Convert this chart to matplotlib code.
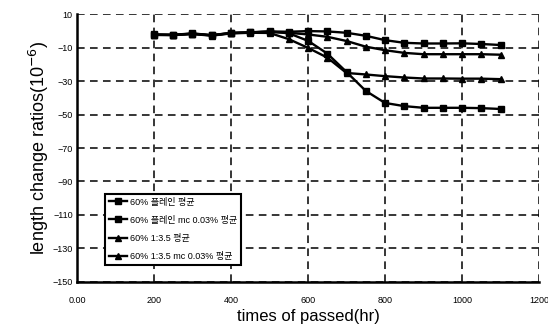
import matplotlib
matplotlib.use("Agg")
import matplotlib.pyplot as plt

plt.rcParams['font.family'] = ['Liberation Sans', 'Noto Sans CJK KR', 'DejaVu Sans']

hours = [200, 250, 300, 350, 400, 450, 500, 550, 600, 650, 700,
         750, 800, 850, 900, 950, 1000, 1050, 1100]

plain = [-2.2, -2.4, -1.6, -2.6, -1.3, -0.9, -0.4, -0.6, -0.2, -0.4, -1.2,
         -3.0, -5.6, -7.2, -7.6, -7.6, -7.5, -7.9, -8.5]
plain_mc = [-2.3, -2.5, -1.7, -2.7, -1.3, -1.0, -0.5, -1.5, -6.0, -13.6, -24.6,
            -35.9, -43.1, -45.0, -46.0, -46.0, -46.0, -46.2, -46.7]
mix = [-2.5, -2.6, -2.0, -2.9, -1.6, -1.2, -1.3, -5.0, -10.2, -16.0, -25.2,
       -26.1, -27.1, -27.9, -28.5, -28.5, -28.6, -28.6, -28.9]
mix_mc = [-2.4, -2.5, -1.8, -2.8, -1.4, -1.0, -0.6, -1.2, -2.2, -3.6, -6.1,
          -9.5, -11.6, -13.2, -14.0, -14.0, -14.0, -14.0, -14.3]

labels = ["60% 플레인 평균", "60% 플레인 mc 0.03% 평균",
          "60% 1:3.5 평균", "60% 1:3.5 mc 0.03% 평균"]
markers = ["s", "s", "^", "^"]

x_ticks = [0, 200, 400, 600, 800, 1000, 1200]
x_tick_labels = ["0.00", "200", "400", "600", "800", "1000", "1200"]
y_ticks = [10, -10, -30, -50, -70, -90, -110, -130, -150]

fig = plt.figure(figsize=(5.48, 3.29), dpi=100)
ax = fig.add_axes([0.1405, 0.1429, 0.8431, 0.8145])

for series, label, mk in zip([plain, plain_mc, mix, mix_mc], labels, markers):
    ax.plot(hours, series, color='black', lw=1.7, marker=mk, ms=5,
            mec='black', mfc='black', label=label)

ax.set_xlim(0, 1200)
ax.set_ylim(-150, 10)
ax.set_xticks(x_ticks)
ax.set_xticklabels(x_tick_labels)
ax.set_yticks(y_ticks)
ax.tick_params(axis='both', labelsize=6.5, length=0, pad=3)
ax.tick_params(axis='x', pad=10)

ax.grid(True, color='black', linestyle=(0, (5, 3.5)), linewidth=1.1)
for side in ['top', 'right']:
    ax.spines[side].set_visible(False)
for side in ['left', 'bottom']:
    ax.spines[side].set_linewidth(1.8)

ax.set_xlabel("times of passed(hr)", fontsize=12, labelpad=3)
ax.set_ylabel("length change ratios(10$^{-6}$)", fontsize=13, labelpad=1)

leg = ax.legend(loc='upper left', bbox_to_anchor=(0.06, 0.33), fontsize=6.5,
                frameon=True, fancybox=False, framealpha=1, edgecolor='black',
                handlelength=2.0, borderpad=0.45, labelspacing=1.0,
                handletextpad=0.3, borderaxespad=0)
leg.get_frame().set_linewidth(1.5)

fig.savefig("out.png", dpi=100)
